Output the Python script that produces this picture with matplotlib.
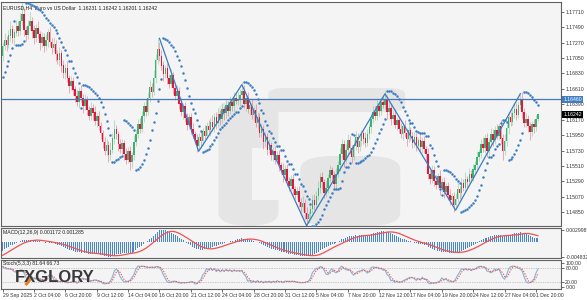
import numpy as np
import matplotlib.pyplot as plt
from matplotlib.patches import FancyBboxPatch, Rectangle
from matplotlib.transforms import blended_transform_factory

# ---- price data (EURUSD H4), bar 0 = 29 Sep 12:00 ----
pre_open = 1.1795
pre_close = [1.1800, 1.1808, 1.1812, 1.1818, 1.1810, 1.1805,
             1.1812, 1.1798, 1.1776, 1.1755, 1.1740, 1.1736,
             1.1730, 1.1722, 1.1708, 1.1684, 1.1670, 1.1664,
             1.1672, 1.1680, 1.1676, 1.1690, 1.1702, 1.1698,
             1.1704, 1.1712, 1.1708]
pre_up = [4, 5, 3, 6, 4, 5, 4, 3, 5, 4, 3, 5, 4, 5, 3, 4, 5, 6, 4, 5, 3, 6, 4, 5, 4, 3, 5]
pre_dn = [5, 4, 6, 3, 5, 4, 5, 6, 4, 5, 6, 4, 3, 5, 6, 4, 3, 5, 4, 3, 5, 4, 3, 4, 5, 4, 3]

close = [
    1.1722, 1.1731, 1.1724, 1.1737, 1.1746, 1.1733, 1.1741, 1.1750, 1.1744, 1.1757,
    1.1768, 1.1745, 1.1738, 1.1750, 1.1758, 1.1744, 1.1733, 1.1748, 1.1739, 1.1726,
    1.1734, 1.1722, 1.1730, 1.1741, 1.1728, 1.1719, 1.1725, 1.1710, 1.1702, 1.1712,
    1.1694, 1.1683, 1.1690, 1.1676, 1.1665, 1.1672, 1.1660, 1.1651, 1.1642, 1.1658,
    1.1648, 1.1636, 1.1645, 1.1631, 1.1622, 1.1634, 1.1627, 1.1615, 1.1622, 1.1608,
    1.1598, 1.1585, 1.1572, 1.1580, 1.1566, 1.1574, 1.1590, 1.1604, 1.1596, 1.1582,
    1.1575, 1.1583, 1.1568, 1.1560, 1.1572, 1.1556, 1.1566, 1.1585, 1.1597, 1.1610,
    1.1604, 1.1622, 1.1636, 1.1628, 1.1648, 1.1664, 1.1657, 1.1676, 1.1702, 1.1718,
    1.1708, 1.1694, 1.1682, 1.1690, 1.1676, 1.1668, 1.1680, 1.1662, 1.1651, 1.1658,
    1.1640, 1.1628, 1.1636, 1.1619, 1.1610, 1.1620, 1.1604, 1.1596, 1.1588, 1.1580,
    1.1592, 1.1586, 1.1600, 1.1594, 1.1608, 1.1602, 1.1614, 1.1606, 1.1620, 1.1612,
    1.1625, 1.1618, 1.1632, 1.1626, 1.1638, 1.1630, 1.1642, 1.1636, 1.1648, 1.1644,
    1.1645, 1.1652, 1.1658, 1.1640, 1.1648, 1.1632, 1.1638, 1.1624, 1.1630, 1.1612,
    1.1620, 1.1598, 1.1604, 1.1585, 1.1592, 1.1574, 1.1580, 1.1566, 1.1572, 1.1560,
    1.1566, 1.1552, 1.1545, 1.1538, 1.1546, 1.1530, 1.1522, 1.1532, 1.1518, 1.1510,
    1.1515, 1.1500, 1.1492, 1.1498, 1.1484, 1.1476, 1.1482, 1.1490, 1.1502, 1.1496,
    1.1508, 1.1520, 1.1535, 1.1528, 1.1512, 1.1520, 1.1534, 1.1545, 1.1538, 1.1526,
    1.1540, 1.1552, 1.1568, 1.1582, 1.1560, 1.1574, 1.1588, 1.1576, 1.1564, 1.1580,
    1.1592, 1.1578, 1.1586, 1.1598, 1.1590, 1.1584, 1.1596, 1.1606, 1.1618, 1.1628,
    1.1622, 1.1636, 1.1630, 1.1642, 1.1638, 1.1646, 1.1628, 1.1634, 1.1618, 1.1624,
    1.1610, 1.1616, 1.1604, 1.1596, 1.1608, 1.1598, 1.1590, 1.1602, 1.1594, 1.1584,
    1.1592, 1.1580, 1.1588, 1.1578, 1.1586, 1.1575, 1.1568, 1.1540, 1.1532, 1.1545,
    1.1530, 1.1524, 1.1536, 1.1520, 1.1528, 1.1514, 1.1522, 1.1510, 1.1502, 1.1508,
    1.1496, 1.1504, 1.1518, 1.1512, 1.1526, 1.1520, 1.1532, 1.1528, 1.1540, 1.1534,
    1.1546, 1.1552, 1.1564, 1.1570, 1.1582, 1.1576, 1.1590, 1.1572, 1.1585, 1.1596,
    1.1588, 1.1602, 1.1594, 1.1608, 1.1590, 1.1572, 1.1586, 1.1605, 1.1620, 1.1614,
    1.1626, 1.1632, 1.1624, 1.1638, 1.1646, 1.1628, 1.1612, 1.1618, 1.1608, 1.1600,
    1.1610, 1.1606, 1.1618, 1.16242]

# wick lengths in pips
up_wick = [
    6, 9, 5, 8, 11, 6, 5, 9, 7, 12, 16, 8, 6, 9, 12, 5, 8, 6, 9, 5,
    8, 6, 9, 5, 8, 6, 10, 5, 7, 8, 5, 8, 6, 10, 5, 8, 6, 5, 9, 6,
    8, 5, 9, 6, 5, 8, 6, 10, 5, 8, 6, 5, 8, 10, 6, 11, 8, 12, 6, 5,
    8, 6, 5, 9, 6, 8, 5, 10, 6, 8, 9, 8, 6, 11, 8, 9, 6, 12, 9, 15,
    10, 8, 6, 5, 8, 6, 9, 5, 6, 8, 6, 8, 5, 6, 8, 5, 6, 9, 5, 8,
    6, 8, 5, 9, 6, 8, 5, 9, 6, 8, 8, 6, 9, 5, 8, 6, 9, 5, 8, 9,
    12, 9, 13, 8, 6, 9, 5, 8, 6, 9, 8, 6, 9, 5, 8, 6, 10, 5, 6, 8,
    6, 8, 5, 10, 6, 8, 5, 6, 8, 5, 6, 8, 5, 10, 6, 8, 5, 6, 8, 9,
    8, 9, 6, 8, 5, 10, 6, 8, 5, 6, 8, 6, 9, 8, 6, 9, 8, 6, 5, 8,
    9, 6, 8, 5, 6, 10, 8, 6, 8, 9, 8, 9, 6, 8, 9, 12, 6, 8, 5, 6,
    8, 5, 6, 9, 5, 8, 6, 10, 5, 6, 8, 6, 5, 10, 6, 8, 5, 9, 6, 8,
    6, 8, 5, 10, 6, 8, 5, 6, 8, 5, 6, 8, 9, 5, 8, 6, 10, 5, 8, 6,
    8, 6, 9, 5, 8, 10, 6, 8, 6, 9, 8, 6, 9, 5, 8, 6, 10, 8, 6, 8,
    6, 8, 9, 6, 8, 10, 6, 8, 5, 6, 5, 8, 6, 3]
dn_wick = [
    8, 6, 9, 5, 8, 6, 10, 5, 8, 6, 5, 8, 9, 6, 5, 10, 8, 5, 6, 9,
    6, 8, 5, 10, 6, 8, 5, 9, 6, 8, 9, 6, 8, 5, 10, 6, 8, 9, 6, 8,
    6, 9, 5, 8, 6, 5, 10, 6, 8, 6, 8, 9, 6, 5, 10, 6, 5, 8, 6, 10,
    6, 8, 9, 6, 5, 11, 8, 6, 5, 6, 6, 5, 8, 6, 5, 6, 8, 5, 6, 5,
    8, 6, 10, 5, 8, 6, 5, 9, 6, 5, 8, 6, 10, 5, 8, 6, 8, 5, 6, 9,
    5, 10, 6, 8, 5, 6, 8, 5, 6, 8, 6, 8, 5, 10, 6, 8, 5, 6, 8, 5,
    6, 8, 5, 6, 10, 5, 8, 6, 9, 5, 8, 6, 5, 10, 6, 8, 5, 6, 8, 6,
    5, 8, 6, 10, 5, 8, 6, 5, 8, 6, 6, 8, 6, 5, 8, 11, 6, 5, 6, 8,
    5, 6, 8, 10, 6, 5, 8, 6, 9, 8, 6, 5, 8, 6, 10, 5, 6, 8, 9, 5,
    6, 8, 5, 6, 8, 6, 5, 6, 8, 5, 6, 5, 8, 6, 5, 6, 10, 5, 8, 6,
    5, 8, 6, 5, 8, 6, 10, 5, 6, 8, 6, 8, 5, 6, 8, 5, 10, 8, 6, 5,
    8, 6, 5, 10, 6, 8, 5, 8, 6, 5, 10, 6, 5, 8, 6, 5, 6, 8, 5, 6,
    5, 6, 5, 6, 8, 5, 6, 8, 5, 6, 8, 6, 5, 6, 8, 12, 5, 6, 8, 6,
    5, 6, 8, 5, 6, 8, 6, 5, 8, 12, 6, 8, 5, 3]

# zigzag pivots (bar index, price)
zz_bar = [80, 100, 122, 155, 195, 231, 264]
zz_price = [1.1733, 1.1572, 1.1667, 1.1466, 1.1654, 1.1488, 1.1654]

hline_price = 1.16460
last_price = 1.16242
price_ticks = [1.17710, 1.17490, 1.17270, 1.17050, 1.16830, 1.16610, 1.16390,
               1.16170, 1.15950, 1.15730, 1.15510, 1.15290, 1.15070, 1.14850]
date_labels = ["29 Sep 2025", "2 Oct 04:00", "6 Oct 20:00", "9 Oct 12:00", "14 Oct 04:00",
               "16 Oct 20:00", "21 Oct 12:00", "24 Oct 04:00", "28 Oct 20:00", "31 Oct 12:00",
               "5 Nov 04:00", "7 Nov 20:00", "12 Nov 12:00", "17 Nov 04:00", "19 Nov 20:00",
               "24 Nov 12:00", "27 Nov 04:00", "1 Dec 20:00"]
date_bars = list(range(0, 273, 16))

# ---- build full OHLC (history + visible) ----
c_all = np.array(pre_close + close)
o_all = np.concatenate([[pre_open], c_all[:-1]])
h_all = np.maximum(o_all, c_all) + np.array(pre_up + up_wick) * 1e-4
l_all = np.minimum(o_all, c_all) - np.array(pre_dn + dn_wick) * 1e-4
npre = len(pre_close)


def ema(v, n):
    out = np.zeros(len(v))
    k = 2 / (n + 1)
    out[0] = v[0]
    for i in range(1, len(v)):
        out[i] = v[i] * k + out[i - 1] * (1 - k)
    return out


def sma(v, n):
    return np.convolve(v, np.ones(n) / n, mode="full")[:len(v)]


def psar(hi, lo, step=0.02, amax=0.2):
    out = np.zeros(len(hi))
    up, af, ep = True, step, hi[0]
    out[0] = lo[0]
    for i in range(1, len(hi)):
        s = out[i - 1] + af * (ep - out[i - 1])
        if up:
            s = min(s, lo[i - 1], lo[max(i - 2, 0)])
            if lo[i] < s:
                up, s, ep, af = False, ep, lo[i], step
            elif hi[i] > ep:
                ep, af = hi[i], min(af + step, amax)
        else:
            s = max(s, hi[i - 1], hi[max(i - 2, 0)])
            if hi[i] > s:
                up, s, ep, af = True, ep, hi[i], step
            elif lo[i] < ep:
                ep, af = lo[i], min(af + step, amax)
        out[i] = s
    return out


macd_all = ema(c_all, 12) - ema(c_all, 26)
sig_all = sma(macd_all, 9)
hh = np.array([h_all[max(0, i - 4):i + 1].max() for i in range(len(h_all))])
ll = np.array([l_all[max(0, i - 4):i + 1].min() for i in range(len(l_all))])
k_all = 100 * sma(c_all - ll, 3) / sma(hh - ll, 3)
d_all = sma(k_all, 3)
sar_all = psar(h_all, l_all)

o, c, h, l = o_all[npre:], c_all[npre:], h_all[npre:], l_all[npre:]
macd, sig = macd_all[npre:], sig_all[npre:]
stk, std = k_all[npre:], d_all[npre:]
sar = sar_all[npre:]
x = np.arange(len(c))

# ---- figure ----
BG = "#f4f4f4"
FRAME = "#606060"
GREEN = "#3cb371"
RED = "#e4163f"
BLUE = "#3a7cc3"
FONT = "Liberation Sans"
FS = 3.7

fig = plt.figure(figsize=(5.87, 3.0), dpi=100)
fig.patch.set_facecolor("white")
ax = fig.add_axes([0.001, 0.2467, 0.9549, 0.7467])
axm = fig.add_axes([0.001, 0.14, 0.9549, 0.1])
axs = fig.add_axes([0.001, 0.0367, 0.9549, 0.0967])

xlim = (-1.02, 284.8)
for a in (ax, axm, axs):
    a.set_facecolor(BG)
    a.set_xlim(*xlim)
    for sp in a.spines.values():
        sp.set_color(FRAME)
        sp.set_linewidth(0.8)
    a.yaxis.tick_right()
    a.tick_params(axis="y", direction="out", length=2, width=0.5, pad=1,
                  labelsize=FS, colors="#333333")
    a.tick_params(axis="x", bottom=False, labelbottom=False)


# watermark logo (pixel coords of the main panel -> axes fraction)
def px(xp, yp):
    return xp / 561.0, (226.0 - yp) / 224.0


wm = "#e5e5e5"
ax.add_patch(FancyBboxPatch(px(268, 112), 137 / 561, 24 / 224,
                            boxstyle="round,pad=0,rounding_size=0.03",
                            transform=ax.transAxes, fc=wm, ec="none", zorder=0))
ax.add_patch(FancyBboxPatch(px(300, 226), 100 / 561, 70 / 224,
                            boxstyle="round,pad=0,rounding_size=0.06",
                            transform=ax.transAxes, fc=wm, ec="none", zorder=0))
ax.add_patch(FancyBboxPatch(px(218, 226), 60 / 561, 128 / 224,
                            boxstyle="round,pad=0,rounding_size=0.06",
                            transform=ax.transAxes, fc=wm, ec="none", zorder=0))
ax.add_patch(Rectangle(px(252, 200), 46 / 561, 52 / 224, transform=ax.transAxes,
                       fc=BG, ec="none", zorder=0))

# candles
up = c >= o
for mask, col in ((up, GREEN), (~up, RED)):
    ax.vlines(x[mask], l[mask], h[mask], color=col, lw=0.6, alpha=0.4, zorder=2)
    ax.bar(x[mask], np.abs(c - o)[mask] + 0.00003, bottom=np.minimum(o, c)[mask],
           width=0.8, color=col, lw=0, zorder=3)

ax.scatter(x, sar, s=3.2, color=BLUE, lw=0, zorder=4)
ax.plot(zz_bar, zz_price, color=BLUE, lw=0.9, zorder=5)
ax.axhline(hline_price, color="#4778b5", lw=0.9, zorder=5)

ax.set_ylim(1.14655, 1.17848)
ax.set_yticks(price_ticks)
ax.set_yticklabels([f"{v:.5f}" for v in price_ticks], family=FONT)
tr = blended_transform_factory(ax.transAxes, ax.transData)
for val, fc in ((hline_price, "#3f7cc0"), (last_price, "black")):
    ax.text(1.004, val, f"{val:.5f}", transform=tr, fontsize=FS, color="white",
            va="center", ha="left", zorder=10, family=FONT,
            bbox=dict(boxstyle="square,pad=0.25", fc=fc, ec="none"), clip_on=False)
ax.text(0.005, 0.985, "EURUSD,H4  Euro vs US Dollar  1.16231 1.16242 1.16201 1.16242",
        transform=ax.transAxes, fontsize=FS, color="#222222", va="top", ha="left",
        family=FONT)

# MACD panel (auto-scaled to visible range like the terminal does)
lo = min(macd.min(), sig.min())
hi = max(macd.max(), sig.max())
span = hi - lo
axm.bar(x, macd, width=0.5, color="#4a86c6", lw=0, zorder=2)
axm.plot(x, sig, color="#f05252", lw=0.9, zorder=3)
axm.set_ylim(lo - span / 27, hi + 2 * span / 27)
axm.set_yticks([hi, lo])
axm.set_yticklabels(["0.002998", "-0.004832"], family=FONT)
axm.text(0.005, 0.93, "MACD(12,26,9) 0.001172 0.001285", transform=axm.transAxes,
         fontsize=FS, color="#222222", va="top", ha="left", family=FONT)

# Stochastic panel
axs.axhline(80, color="#9a9a9a", lw=0.5, ls=(0, (1, 1.5)), zorder=1)
axs.axhline(20, color="#9a9a9a", lw=0.5, ls=(0, (1, 1.5)), zorder=1)
axs.plot(x, stk, color="#86b4d8", lw=0.8, zorder=3)
axs.plot(x, std, color="#f05a5a", lw=0.8, ls=(0, (1.2, 1.2)), zorder=4)
axs.set_ylim(-8, 112)
axs.set_yticks([100, 80, 20, 0])
axs.set_yticklabels(["100.00", "80.00", "20.00", "0.00"], family=FONT)
axs.text(0.005, 0.95, "Stoch(5,3,3) 81.64 66.73", transform=axs.transAxes,
         fontsize=FS, color="#222222", va="top", ha="left", family=FONT)
axs.tick_params(axis="x", bottom=True, labelbottom=True, direction="out", length=2,
                width=0.5, pad=1, labelsize=FS, colors="#333333")
axs.set_xticks(date_bars)
axs.set_xticklabels(date_labels, ha="left", family=FONT)

# FXGLORY logo
fig.text(15 / 587, 1 - 278 / 300, "FXGLORY", fontsize=12, fontweight="bold",
         color="#3a3a3a", va="center", ha="left", family=FONT)
fig.add_artist(plt.Line2D([25.5 / 587, 30.5 / 587], [1 - 285 / 300, 1 - 279 / 300],
                          transform=fig.transFigure, color="#f07f1e", lw=2.2,
                          solid_capstyle="butt"))

fig.savefig("out.png", dpi=100, facecolor="white")
